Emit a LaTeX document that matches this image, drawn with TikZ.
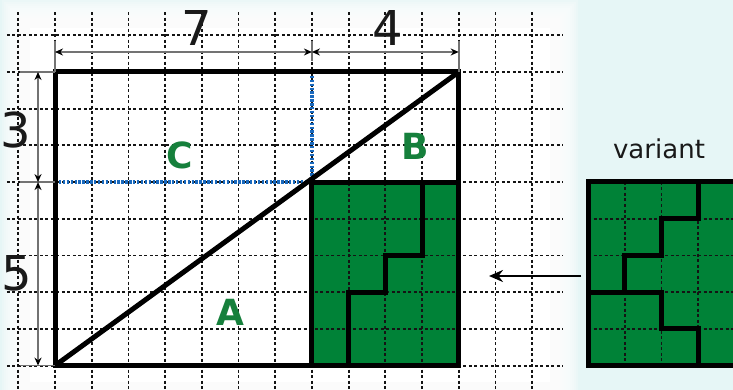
\documentclass[tikz,border=0pt]{standalone}
\usepackage{fontspec}
\setmainfont{DejaVu Sans}
\usetikzlibrary{arrows.meta}
\definecolor{bgc}{RGB}{230,246,246}
\definecolor{gfill}{RGB}{0,130,55}
\definecolor{gtext}{RGB}{22,128,60}
\definecolor{bdot}{RGB}{25,105,190}
\definecolor{gridc}{RGB}{20,20,20}
\definecolor{dimc}{RGB}{115,115,115}
\definecolor{numc}{RGB}{25,25,25}
\tikzset{
 gridline/.style={gridc, line width=1.8pt, dash pattern=on 3pt off 2.5pt},
 thickline/.style={black, line width=5pt, line join=miter},
 bluedot/.style={bdot, line width=3.8pt, dash pattern=on 2.4pt off 1.5pt},
 dimline/.style={dimc, line width=1.6pt},
 dimarrow/.style={dimline, {Stealth[black,length=8pt,width=7pt]}-{Stealth[black,length=8pt,width=7pt]}},
 bignum/.style={font=\fontsize{48}{48}\selectfont, text=numc, inner sep=0pt},
 letter/.style={font=\fontsize{36}{36}\selectfont\bfseries, text=gtext, inner sep=0pt},
 varlabel/.style={font=\fontsize{26}{26}\selectfont, text=numc, inner sep=0pt, anchor=base},
}
\begin{document}
\begin{tikzpicture}[x=1pt,y=-1pt]
\useasboundingbox (0,0) rectangle (733,390);
% background
\fill[bgc] (0,0) rectangle (733,390);
\foreach \k in {0,...,15}
  \fill[white, opacity=0.2] (2+2*\k, 0+2*\k) rectangle (578-2*\k, 410-2*\k);
\fill[white] (30,28) rectangle (550,382);

% main figure
\begin{scope}[shift={(55,72)}, x=36.7pt, y=-36.7pt]
  \fill[gfill] (7,3) rectangle (11,8);
  % grid
  \foreach \i in {-1,...,13}
    \draw[gridline] (\i,-1.63) -- (\i,8.75);
  \foreach \j in {-1,...,8}
    \draw[gridline] (-1.31,\j) -- (13.84,\j);
  % blue dotted
  \coordinate (c0) at (0,0);
  \coordinate (c7top) at (7,0);
  \coordinate (c7mid) at (7,3);
  \coordinate (c0mid) at (0,3);
  \draw[bluedot] (c7top) -- (c7mid);
  \draw[bluedot] (c0mid) -- (c7mid);
  % thick outlines
  \draw[thickline] (0,0) rectangle (11,8);
  \draw[thickline] (0,8) -- (11,0);
  \draw[thickline] (7,3) rectangle (11,8);
  \draw[thickline] (10,3) -- (10,5) -- (9,5) -- (9,6) -- (8,6) -- (8,8);
  % labels
  \node[letter] (lC) at (3.41,2.26) {C};
  \node[letter] (lB) at (9.81,2.04) {B};
  \node[letter] (lA) at (4.77,6.54) {A};
  % top dimensions
  \coordinate (t0) at (0,-0.545);
  \coordinate (t7) at (7,-0.545);
  \coordinate (t11) at (11,-0.545);
  \draw[dimline] (0,-0.85) -- (0,0);
  \draw[dimline] (7,-0.85) -- (7,-0.3);
  \draw[dimline] (11,-0.85) -- (11,0);
  \draw[dimarrow] (t0) -- (t7);
  \draw[dimarrow] (t7) -- (t11);
  \node[bignum] (n7) at (3.85,-1.2) {7};
  \node[bignum] (n4) at (9.07,-1.2) {4};
  % left dimensions
  \coordinate (l0) at (-0.463,0);
  \coordinate (l3) at (-0.463,3);
  \coordinate (l8) at (-0.463,8);
  \draw[dimline] (-0.95,0) -- (0,0);
  \draw[dimline] (-0.95,3) -- (0,3);
  \draw[dimline] (-0.95,8) -- (0,8);
  \draw[dimarrow] (l0) -- (l3);
  \draw[dimarrow] (l3) -- (l8);
  \node[bignum] (n3) at (-1.06,1.58) {3};
  \node[bignum] (n5) at (-1.04,5.48) {5};
\end{scope}

% variant
\begin{scope}[shift={(588,182)}, x=36.7pt, y=-36.7pt]
  \fill[gfill] (0,0) rectangle (4.3,5);
  \foreach \i in {1,2,3}
    \draw[gridline] (\i,0) -- (\i,5);
  \foreach \j in {1,...,4}
    \draw[gridline] (0,\j) -- (4.3,\j);
  \draw[thickline] (4.3,0) -- (0,0) -- (0,5) -- (4.3,5);
  \draw[thickline] (3,0) -- (3,1) -- (2,1) -- (2,2) -- (1,2) -- (1,3);
  \draw[thickline] (0,3) -- (2,3) -- (2,4) -- (3,4) -- (3,5);
\end{scope}
\node[varlabel] (vlab) at (659,159) {variant};

% arrow
\coordinate (arrS) at (581,276);
\coordinate (arrE) at (489,276);
\draw[black, line width=2.5pt, -{Stealth[length=14pt,width=12pt]}] (arrS) -- (arrE);
\end{tikzpicture}
\end{document}
